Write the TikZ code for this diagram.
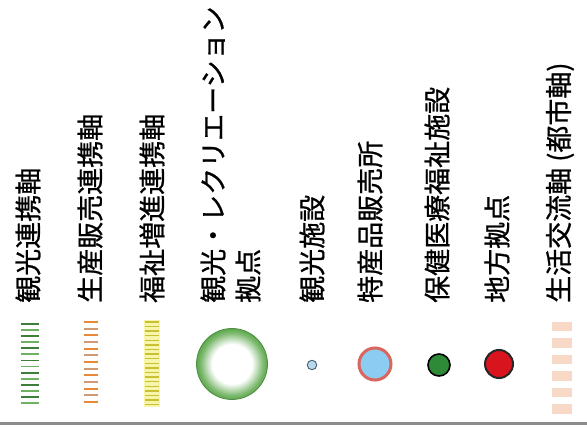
\documentclass[tikz,border=0pt]{standalone}
\usepackage{fontspec}
\newfontfamily\jp[FakeBold=0.8]{Noto Sans CJK JP}
\definecolor{ringgreen}{HTML}{5DA84C}
\definecolor{gdark}{HTML}{3F7D3B}
\definecolor{glight}{HTML}{6FB062}
\definecolor{oorange}{HTML}{E8893A}
\definecolor{otan}{HTML}{CF9A72}
\definecolor{yline}{HTML}{C8C030}
\definecolor{yfill}{HTML}{F2EE70}
\definecolor{skyfill}{HTML}{8CCBF2}
\definecolor{salmon}{HTML}{D9675E}
\definecolor{smallfill}{HTML}{B8D8F0}
\definecolor{smalledge}{HTML}{4A6070}
\definecolor{pgreen}{HTML}{2E8A36}
\definecolor{pred}{HTML}{D8151F}
\definecolor{pink}{HTML}{F8D9C8}
\pgfdeclareradialshading{ringshade}{\pgfpointorigin}{color(0bp)=(white); color(14bp)=(white); color(22bp)=(ringgreen!80); color(25bp)=(ringgreen); color(50bp)=(ringgreen)}
\tikzset{
  lbl/.style={rotate=90, anchor=west, inner sep=0pt, font=\jp\fontsize{27}{27}\selectfont},
  dot/.style={circle, inner sep=0pt},
}
\begin{document}
\begin{tikzpicture}[x=1pt,y=-1pt]
\useasboundingbox (0,0) rectangle (587,427);
\fill[white] (0,0) rectangle (587,427);
% labels
\node[lbl] (t1) at (28,303) {観光連携軸};
\node[lbl] (t2) at (90,303) {生産販売連携軸};
\node[lbl] (t3) at (152,303) {福祉増進連携軸};
\node[lbl] (t4a) at (213,303) {観光・レクリエーション};
\node[lbl] (t4b) at (248,303) {拠点};
\node[lbl] (t5) at (312,303) {観光施設};
\node[lbl] (t6) at (370,303) {特産品販売所};
\node[lbl] (t7) at (437,303) {保健医療福祉施設};
\node[lbl] (t8) at (497,303) {地方拠点};
\node[lbl] (t9) at (560,303) {生活交流軸 (都市軸)};
% hatch symbols
\foreach \i in {0,...,13} {
  \pgfmathsetmacro{\yy}{324+\i*6.08}
  \ifodd\i \def\cc{glight}\else\def\cc{gdark}\fi
  \draw[\cc, line width=1.8pt] (21,\yy) -- (39,\yy);
}
\foreach \i in {0,...,12} {
  \pgfmathsetmacro{\yy}{322+\i*6.67}
  \ifodd\i \def\cc{otan}\else\def\cc{oorange}\fi
  \draw[\cc, line width=2pt] (84,\yy) -- (98,\yy);
}
\fill[yfill!60] (144,320) rectangle (160,407);
\foreach \i in {0,...,18} {
  \pgfmathsetmacro{\yy}{322+\i*4.6}
  \draw[yline, line width=1.4pt] (145,\yy) -- (159,\yy);
}
% circles
\shade[shading=ringshade] (232,364) circle (35.5);
\draw[ringgreen!85!black, line width=0.8pt] (232,364) circle (35.5);
\node[dot, draw=smalledge, fill=smallfill, line width=0.9pt, minimum size=9.5pt] (s5) at (312,365) {};
\node[dot, draw=salmon, fill=skyfill, line width=3pt, minimum size=32pt] (s6) at (375,364) {};
\node[dot, draw=black, fill=pgreen, line width=1.6pt, minimum size=22pt] (s7) at (439,365) {};
\node[dot, draw=black!85, fill=pred, line width=2pt, minimum size=28pt] (s8) at (499,364) {};
% pink dashes
\foreach \yy in {322,338.5,355,371.5,388,404.5} {
  \fill[pink] (552,\yy) rectangle (572,\yy+9.5);
}
% bottom rule
\fill[black!45] (0,422.5) rectangle (587,425.5);
\end{tikzpicture}
\end{document}
